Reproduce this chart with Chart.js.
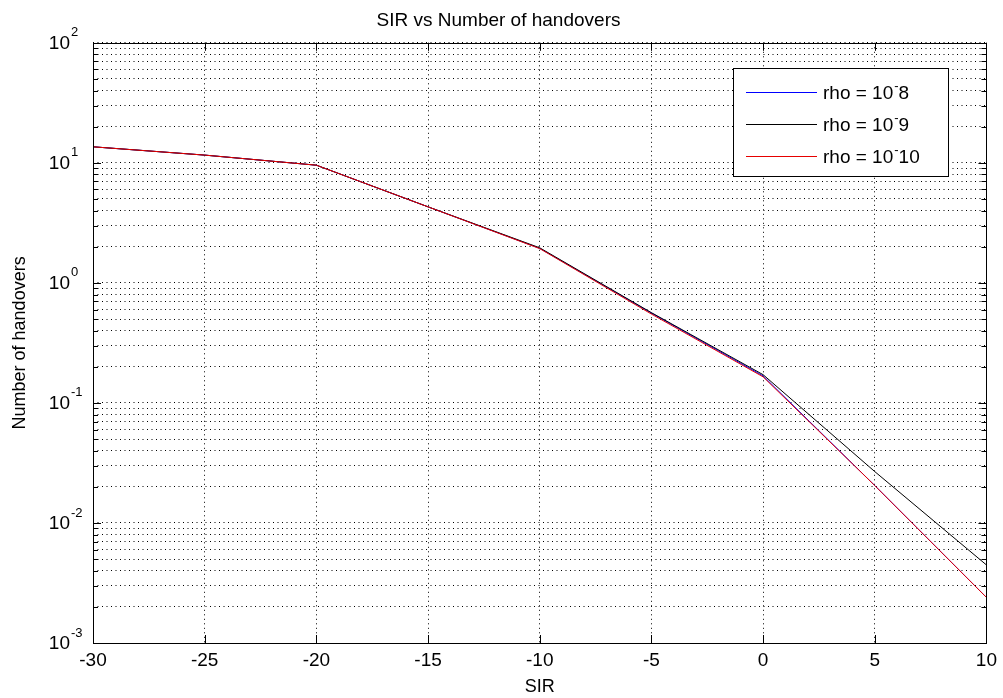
<!DOCTYPE html>
<html>
<head>
<meta charset="utf-8">
<title>SIR vs Number of handovers</title>
<script src="https://cdn.jsdelivr.net/npm/chart.js@4/dist/chart.umd.min.js"></script>
<style>
  html, body { margin: 0; padding: 0; background: #fff; }
  canvas { display: block; }
</style>
</head>
<body>
<canvas id="myChart" width="1003" height="698"></canvas>
<script>
// SIR values (dB) and number of handovers for each rho
var sir = [-30, -25, -20, -15, -10, -5, 0, 5, 10];
var rho8 = [13.6, 11.6, 9.56, 4.3, 1.94, 0.56, 0.168, 0.0205, 0.0024];
var rho9 = [13.6, 11.6, 9.56, 4.3, 1.96, 0.565, 0.172, 0.0268, 0.00447];
var rho10 = [13.6, 11.6, 9.56, 4.3, 1.93, 0.55, 0.165, 0.0205, 0.0024];
var seriesNames = ['rho = 10\u207B8', 'rho = 10\u207B9', 'rho = 10\u207B10'];
var seriesColors = ['#0000ff', '#000000', '#e60000'];

var xTicks = [-30, -25, -20, -15, -10, -5, 0, 5, 10];
var yExponents = [-3, -2, -1, 0, 1, 2];

var FONT = 'Liberation Sans, Arial, Helvetica, sans-serif';

function toPoints(ys) {
    var pts = [];
    for (var i = 0; i < sir.length; i++) pts.push({x: sir[i], y: ys[i]});
    return pts;
}

// all log ticks 1..9 x 10^k
var yTickValues = [];
for (var e = yExponents[0]; e < yExponents[yExponents.length - 1]; e++) {
    for (var m = 1; m < 10; m++) yTickValues.push(m * Math.pow(10, e));
}
yTickValues.push(Math.pow(10, yExponents[yExponents.length - 1]));

function isDecade(v) {
    var l = Math.log10(v);
    return Math.abs(l - Math.round(l)) < 1e-9;
}

var matlabBits = {
    id: 'matlabBits',
    beforeDraw: function(chart) {
        var c = chart.ctx;
        c.save();
        c.fillStyle = '#fff';
        c.fillRect(0, 0, chart.width, chart.height);
        c.restore();
    },
    afterDraw: function(chart) {
        var c = chart.ctx;
        var a = chart.chartArea;
        var xs = chart.scales.x, ys = chart.scales.y;
        c.save();
        c.strokeStyle = '#000';
        c.lineWidth = 1;
        c.setLineDash([]);
        // frame
        c.strokeRect(Math.round(a.left) + 0.5, Math.round(a.top) + 0.5,
            Math.round(a.right - a.left), Math.round(a.bottom - a.top));

        // inward tick marks
        c.beginPath();
        yTickValues.forEach(function(v) {
            var py = Math.round(ys.getPixelForValue(v)) + 0.5;
            var len = isDecade(v) ? 8 : 5;
            c.moveTo(a.left, py); c.lineTo(a.left + len, py);
            c.moveTo(a.right, py); c.lineTo(a.right - len, py);
        });
        xTicks.forEach(function(v) {
            var px = Math.round(xs.getPixelForValue(v)) + 0.5;
            c.moveTo(px, a.bottom); c.lineTo(px, a.bottom - 8);
            c.moveTo(px, a.top); c.lineTo(px, a.top + 8);
        });
        c.stroke();

        // y tick labels 10^k
        c.fillStyle = '#000';
        c.textBaseline = 'middle';
        yExponents.forEach(function(k) {
            var py = ys.getPixelForValue(Math.pow(10, k));
            c.font = '19px ' + FONT;
            c.textAlign = 'right';
            c.fillText('10', 70, py + 1);
            c.font = '13px ' + FONT;
            c.textAlign = 'left';
            c.fillText(String(k), 71, py - 10);
        });

        // legend
        var lx = 733, ly = 68, lw = 215, lh = 108;
        c.fillStyle = '#fff';
        c.fillRect(lx, ly, lw, lh);
        c.strokeRect(lx + 0.5, ly + 0.5, lw, lh);
        seriesNames.forEach(function(name, i) {
            var ry = ly + 24 + i * 32;
            c.strokeStyle = seriesColors[i];
            c.beginPath();
            c.moveTo(746, ry + 0.5); c.lineTo(817, ry + 0.5);
            c.stroke();
            var parts = name.split('\u207B');
            c.fillStyle = '#000';
            c.textAlign = 'left';
            c.font = '19px ' + FONT;
            var tx = 823;
            c.fillText(parts[0], tx, ry + 2);
            tx += c.measureText(parts[0]).width;
            c.font = '13px ' + FONT;
            c.fillText('-', tx + 1, ry - 6);
            tx += c.measureText('-').width + 1;
            c.font = '19px ' + FONT;
            c.fillText(parts[1], tx, ry + 2);
        });
        c.restore();
    }
};

var ctx = document.getElementById('myChart').getContext('2d');
var chart = new Chart(ctx, {
    type: 'line',
    data: {
        datasets: [{
            label: seriesNames[0],
            data: toPoints(rho8),
            borderColor: seriesColors[0],
            order: 2
        }, {
            label: seriesNames[1],
            data: toPoints(rho9),
            borderColor: seriesColors[1],
            order: 1
        }, {
            label: seriesNames[2],
            data: toPoints(rho10),
            borderColor: seriesColors[2],
            order: 0
        }]
    },
    plugins: [matlabBits],
    options: {
        responsive: false,
        animation: false,
        layout: { padding: { left: 9, right: 15, top: 0, bottom: 0 } },
        elements: {
            line: { borderWidth: 1, tension: 0, fill: false },
            point: { radius: 0 }
        },
        plugins: {
            legend: { display: false },
            tooltip: { enabled: false },
            title: {
                display: true,
                text: 'SIR vs Number of handovers',
                color: '#000',
                font: { family: FONT, size: 19, weight: 'normal' },
                padding: { top: 9, bottom: 11 }
            }
        },
        scales: {
            x: {
                type: 'linear',
                min: -30,
                max: 10,
                afterBuildTicks: function(s) {
                    s.ticks = xTicks.map(function(v) { return {value: v}; });
                },
                afterFit: function(s) { s.height = 55; },
                ticks: {
                    color: '#000',
                    font: { family: FONT, size: 19 },
                    padding: 6,
                    maxRotation: 0,
                    autoSkip: false
                },
                grid: { color: '#000', lineWidth: 1, drawTicks: false },
                border: { display: false, dash: [1, 3.5] },
                title: {
                    display: true,
                    text: 'SIR',
                    color: '#000',
                    font: { family: FONT, size: 18 },
                    padding: 0
                }
            },
            y: {
                type: 'logarithmic',
                min: 0.001,
                max: 100,
                afterBuildTicks: function(s) {
                    s.ticks = yTickValues.map(function(v) { return {value: v}; });
                },
                afterFit: function(s) { s.width = 84; },
                ticks: { display: false },
                grid: { color: '#000', lineWidth: 1, drawTicks: false },
                border: { display: false, dash: [1, 3.5] },
                title: {
                    display: true,
                    text: 'Number of handovers',
                    color: '#000',
                    font: { family: FONT, size: 18 },
                    padding: 0
                }
            }
        }
    }
});
</script>
</body>
</html>
